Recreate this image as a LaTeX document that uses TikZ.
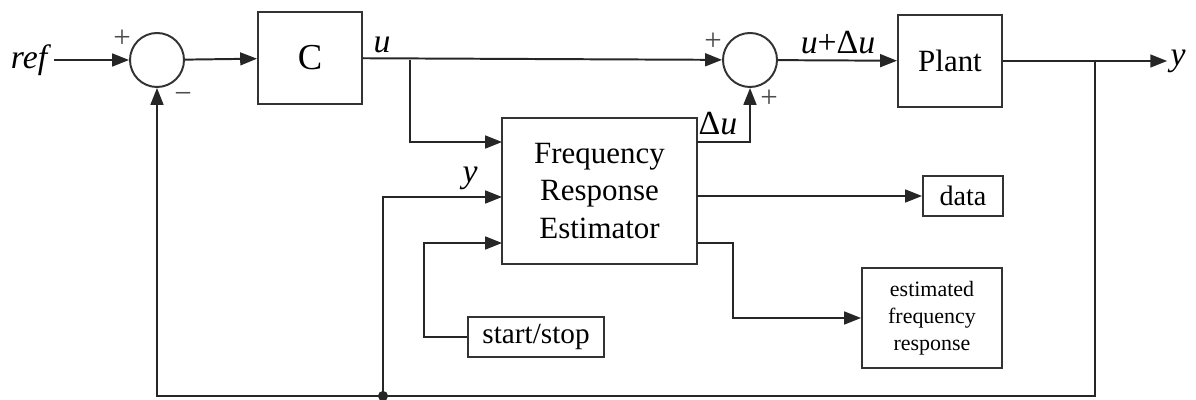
\documentclass[tikz,border=0pt]{standalone}
\usepackage{fontspec}
\setmainfont{Liberation Serif}
\usepackage{tikz}
\usetikzlibrary{arrows.meta, positioning}
\tikzset{
  blkbox/.style={draw=black!80,line width=0.7pt,align=center,inner sep=1pt,font=\fontsize{11}{13.5}\selectfont},
  sumnode/.style={circle,draw=black!80,line width=0.7pt,minimum size=6.75mm,inner sep=0pt},
  sigedge/.style={-{Triangle[length=2.1mm,width=1.6mm]},line width=0.7pt,black!85},
  wire/.style={line width=0.7pt,black!85},
  lbl/.style={inner sep=1pt,font=\fontsize{12}{14}\selectfont},
  sgn/.style={inner sep=0pt,font=\fontsize{11}{12}\selectfont,black!70},
}

\begin{document}
\begin{tikzpicture}[x=0.0125cm,y=-0.0125cm]
  \useasboundingbox (0,0) rectangle (1196,400);
  % blocks
  \node[lbl] (nRef) at (31,60) {\textit{ref}};
  \node[sumnode] (nSum1) at (157,60) {};
  \node[blkbox,minimum width=1.3cm,minimum height=1.14cm,font=\fontsize{13}{15}\selectfont] (nC) at (310,58) {C};
  \node[sumnode] (nSum2) at (750,60) {};
  \node[blkbox,minimum width=1.3cm,minimum height=1.15cm] (nPlant) at (950,61) {Plant};
  \node[lbl] (nY) at (1178,61) {\textit{y}};
  \node[blkbox,minimum width=2.44cm,minimum height=1.83cm] (nEst) at (599.5,191) {Frequency\\Response\\Estimator};
  \node[blkbox,minimum width=1.0cm,minimum height=0.51cm,font=\fontsize{10}{12}\selectfont] (nData) at (963,196) {data};
  \node[blkbox,minimum width=1.75cm,minimum height=1.26cm,font=\fontsize{7.8}{9.6}\selectfont] (nFreq) at (932,318) {estimated\\frequency\\response};
  \node[blkbox,minimum width=1.71cm,minimum height=0.5cm,font=\fontsize{10.4}{12}\selectfont] (nStart) at (536,337) {start/stop};
  % ports and bends
  \coordinate (pInU) at (502,142);
  \coordinate (pInY) at (502,197);
  \coordinate (pInS) at (502,243);
  \coordinate (pOutDu) at (697,142);
  \coordinate (pOutD) at (697,196);
  \coordinate (pOutE) at (697,243);
  \coordinate (cU) at (410,60);
  \coordinate (cYb) at (1095,60);
  \coordinate (cBL) at (157,396);
  \coordinate (cDot) at (383,396);
  \coordinate (cS) at (424,337);
  % signals
  \draw[sigedge] (nRef) -- (nSum1);
  \draw[sigedge] (nSum1) -- (nC);
  \draw[sigedge] (nC) -- (nSum2);
  \draw[sigedge] (cU) |- (pInU);
  \draw[sigedge] (pOutDu) -| (nSum2.south);
  \draw[sigedge] (nSum2) -- (nPlant);
  \draw[sigedge] (nPlant) -- (nY);
  \draw[sigedge] (cYb) |- (cBL) -- (nSum1.south);
  \fill[black!85] (cDot) circle (1.8pt);
  \draw[sigedge] (cDot) |- (pInY);
  \draw[sigedge] (nStart.west) -- (cS) |- (pInS);
  \draw[sigedge] (pOutD) -- (nData.west);
  \draw[sigedge] (pOutE) -- ++(36,0) |- (nFreq.west);
  % labels
  \node[lbl] (lU) at (382,45) {\textit{u}};
  \node[lbl] (lUdu) at (838,43) {\textit{u}+Δ\textit{u}};
  \node[lbl] (lDu) at (718,124) {Δ\textit{u}};
  \node[lbl] (lY) at (470,178) {\textit{y}};
  \node[sgn] (s1a) at (122,39) {+};
  \node[sgn] (s1b) at (183,98) {\textminus};
  \node[sgn] (s2a) at (713,42) {+};
  \node[sgn] (s2b) at (769,99) {+};
\end{tikzpicture}
\end{document}
